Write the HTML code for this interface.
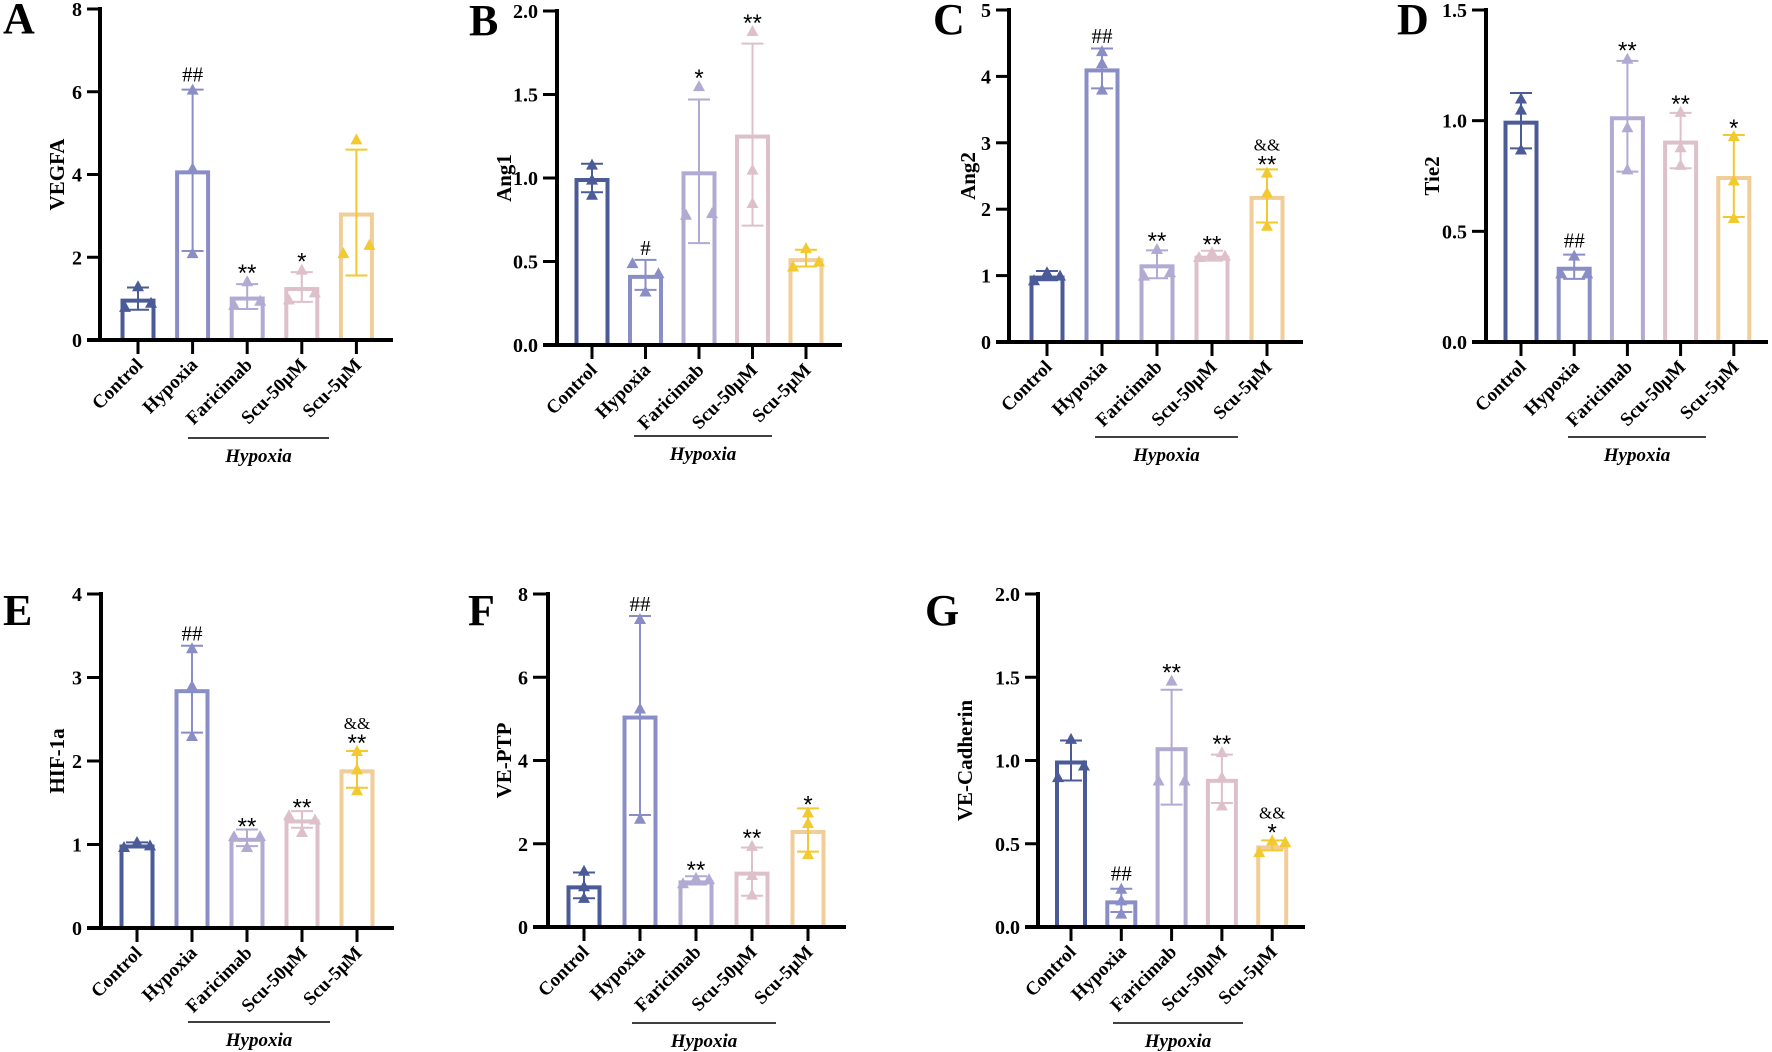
<!DOCTYPE html>
<html><head><meta charset="utf-8"><style>
html,body{margin:0;padding:0;background:#fff;}
svg{display:block;font-family:"Liberation Serif",serif;}
</style></head><body>
<svg id="fig" width="1772" height="1052" viewBox="0 0 1772 1052" xmlns="http://www.w3.org/2000/svg"></svg>
<script>
const categories = ["Control","Hypoxia","Faricimab","Scu-50μM","Scu-5μM"];
const panelLetters = ["A","B","C","D","E","F","G"];
const yTitles = ["VEGFA","Ang1","Ang2","Tie2","HIF-1a","VE-PTP","VE-Cadherin"];
const yMaxes = [8,2,5,1.5,4,8,2];
const yTickLabels = [
 ["0","2","4","6","8"],["0.0","0.5","1.0","1.5","2.0"],["0","1","2","3","4","5"],
 ["0.0","0.5","1.0","1.5"],["0","1","2","3","4"],["0","2","4","6","8"],["0.0","0.5","1.0","1.5","2.0"]];
const meansA=[1.0,4.1,1.05,1.28,3.08];
const meansB=[1.0,0.42,1.04,1.26,0.52];
const meansC=[1.0,4.12,1.17,1.3,2.2];
const meansD=[1.0,0.34,1.02,0.91,0.75];
const meansE=[1.0,2.86,1.08,1.3,1.9];
const meansF=[1.0,5.08,1.12,1.33,2.33];
const meansG=[1.0,0.16,1.08,0.89,0.49];
const sdA=[0.27,1.95,0.3,0.36,1.52];
const sdB=[0.085,0.09,0.43,0.545,0.05];
const sdC=[0.07,0.3,0.21,0.075,0.4];
const sdD=[0.125,0.055,0.25,0.125,0.185];
const sdE=[0.025,0.52,0.1,0.1,0.22];
const sdF=[0.31,2.39,0.1,0.58,0.52];
const sdG=[0.12,0.07,0.345,0.145,0.03];
// points: [left, center, right] (or all at center when not spread)
const ptsA=[[0.8,1.3,0.9],[2.1,6.05,4.15],[0.85,1.42,0.95],[0.98,1.7,1.15],[2.1,4.85,2.3]];
const ptsB=[[0.99,1.08,0.9],[0.49,0.32,0.43],[0.78,1.55,0.79],[1.05,1.88,0.85],[0.47,0.58,0.5]];
const ptsC=[[0.93,1.05,1.0],[4.2,4.38,3.8],[1.0,1.4,1.05],[1.28,1.35,1.3],[2.25,2.55,1.75]];
const ptsD=[[1.05,1.1,0.87],[0.31,0.39,0.31],[0.97,1.28,0.78],[0.88,1.04,0.8],[0.73,0.93,0.56]];
const ptsE=[[0.97,1.03,0.99],[2.9,3.35,2.3],[1.1,0.97,1.1],[1.35,1.15,1.3],[1.9,2.12,1.65]];
const ptsF=[[0.98,1.35,0.7],[5.25,7.4,2.6],[1.05,1.18,1.15],[1.25,1.95,0.78],[2.5,2.75,1.75]];
const ptsG=[[0.9,1.13,0.97],[0.16,0.23,0.08],[0.88,1.48,0.88],[0.9,1.05,0.73],[0.45,0.52,0.51]];
// 1 = points spread horizontally, 0 = stacked at centre
const spreadA=[1,0,1,1,1];
const spreadB=[0,1,1,0,1];
const spreadC=[1,0,1,1,0];
const spreadD=[0,1,0,0,0];
const spreadE=[1,0,1,1,0];
const spreadF=[0,0,1,0,0];
const spreadG=[1,0,1,0,1];
const sigA=["","##","**","*",""];
const sigB=["","#","*","**",""];
const sigC=["","##","**","**","&&\n**"];
const sigD=["","##","**","**","*"];
const sigE=["","##","**","**","&&\n**"];
const sigF=["","##","**","**","*"];
const sigG=["","##","**","**","&&\n*"];

const meansAll=[meansA,meansB,meansC,meansD,meansE,meansF,meansG];
const sdAll=[sdA,sdB,sdC,sdD,sdE,sdF,sdG];
const ptsAll=[ptsA,ptsB,ptsC,ptsD,ptsE,ptsF,ptsG];
const spreadAll=[spreadA,spreadB,spreadC,spreadD,spreadE,spreadF,spreadG];
const sigAll=[sigA,sigB,sigC,sigD,sigE,sigF,sigG];

const layouts=[
 {ax:100,top:9,zero:340,c0:138,step:54.6,xs:87,xe:393,bw:35,hl:[188,329,438],lx:3,tx:57},
 {ax:557,top:11,zero:345,c0:592,step:53.5,xs:543,xe:842,bw:35,hl:[634,772,436],lx:469,tx:504},
 {ax:1009,top:10,zero:342,c0:1047,step:55,xs:996,xe:1303,bw:35,hl:[1095,1238,437],lx:933,tx:968},
 {ax:1486,top:10,zero:342,c0:1521,step:53.2,xs:1472,xe:1768,bw:35,hl:[1568,1706,437],lx:1397,tx:1432},
 {ax:101,top:594,zero:928,c0:137,step:55,xs:87,xe:394,bw:35,hl:[188,330,1022],lx:3,tx:57},
 {ax:548,top:594,zero:927,c0:584,step:56,xs:533,xe:846,bw:35,hl:[632,776,1023],lx:468,tx:504},
 {ax:1038,top:594,zero:927,c0:1071,step:50.3,xs:1025,xe:1305,bw:32,hl:[1113,1243,1023],lx:925,tx:965}
];
const barColors=["#4b5b97","#8a8ec6","#b2aad2","#dec0cb","#f1cd99"];
const markColors=["#4b5b97","#8a8ec6","#b2aad2","#dec0cb","#f2c92e"];

const NS="http://www.w3.org/2000/svg";
const svg=document.getElementById("fig");
function mk(tag,attrs,parent){const e=document.createElementNS(NS,tag);for(const k in attrs)e.setAttribute(k,attrs[k]);(parent||svg).appendChild(e);return e;}

for(let p=0;p<7;p++){
 const L=layouts[p];
 const g=mk("g",{});
 
 
 const ys=v=>L.zero-(v/yMaxes[p])*(L.zero-L.top);
 const xs=i=>L.c0+i*L.step;
 const lt=mk("text",{x:L.lx,y:L.top+(p<4?24:31),"font-size":44,"font-weight":"bold"},g);
 lt.textContent=panelLetters[p];
 
 
 for(let i=0;i<5;i++){
  const m=meansAll[p][i], x=xs(i);
  const b=mk("rect",{x:x-L.bw/2+2,y:ys(m)+2,width:L.bw-4,height:L.zero-ys(m)-2,fill:"none",stroke:barColors[i],"stroke-width":4},g);
  
  
  const sd=sdAll[p][i], c=markColors[i];
  const eb=mk("path",{d:`M${x},${ys(m+sd)}V${ys(m-sd)}M${x-11},${ys(m+sd)}h22M${x-11},${ys(m-sd)}h22`,stroke:c,"stroke-width":2,fill:"none"},g);
  
  
  const offs=spreadAll[p][i]?[-13,0,13]:[0,0,0];
  let topMost=ys(m+sd);
  for(let k=0;k<3;k++){
   const v=ptsAll[p][i][k], px=x+offs[k], py=ys(v);
   topMost=Math.min(topMost,py-5);
   const t=mk("path",{d:`M${px},${py-6}L${px+6},${py+5}L${px-6},${py+5}Z`,fill:c},g);
   
   
  }
  const s=sigAll[p][i];
  if(s){
   const lines=s.split("\n");
   let yy=topMost-3;
   for(let j=lines.length-1;j>=0;j--){
    const isStar=lines[j].indexOf("*")>=0;
    const isHash=lines[j].indexOf("#")>=0;
    const st=mk("text",{x:x,y:isStar?yy+8:yy,"text-anchor":"middle","font-size":isStar?24:(isHash?21:17),"font-family":isStar?"Liberation Sans, sans-serif":"Liberation Serif, serif"},g);
    st.textContent=lines[j];
    
    
    yy-= isStar?14:16;
   }
  }
 }
 const ya=mk("path",{d:`M${L.ax},${L.top-2}V${L.zero+2}`,stroke:"#000","stroke-width":4},g);
 
 
 const xa=mk("path",{d:`M${L.xs},${L.zero}H${L.xe}`,stroke:"#000","stroke-width":4},g);
 
 
 const tl=yTickLabels[p];
 for(let k=0;k<tl.length;k++){
  const v=parseFloat(tl[k]), y=ys(v);
  mk("path",{d:`M${L.xs},${y}H${L.ax}`,stroke:"#000","stroke-width":3},g);
  const tt=mk("text",{x:L.xs-5,y:y+7,"text-anchor":"end","font-size":20,"font-weight":"bold"},g);
  tt.textContent=tl[k];
  
  
 }
 for(let i=0;i<5;i++){
  const x=xs(i);
  mk("path",{d:`M${x},${L.zero}V${L.zero+14}`,stroke:"#000","stroke-width":3},g);
  const ct=mk("text",{x:0,y:0,"text-anchor":"end","font-size":19,"font-weight":"bold",transform:`translate(${x+6},${L.zero+26}) rotate(-45)`},g);
  ct.textContent=categories[i];
  
  
 }
 const yt=mk("text",{x:0,y:0,"text-anchor":"middle","font-size":21,"font-weight":"bold",transform:`translate(${L.tx+7},${(L.top+L.zero)/2}) rotate(-90)`},g);
 yt.textContent=yTitles[p];
 
 
 const hl=mk("path",{d:`M${L.hl[0]},${L.hl[2]}H${L.hl[1]}`,stroke:"#000","stroke-width":1.5},g);
 
 
 const ht=mk("text",{x:(L.hl[0]+L.hl[1])/2,y:L.hl[2]+24,"text-anchor":"middle","font-size":19,"font-weight":"bold","font-style":"italic"},g);
 ht.textContent="Hypoxia";
 
 
}
</script>
</body></html>
